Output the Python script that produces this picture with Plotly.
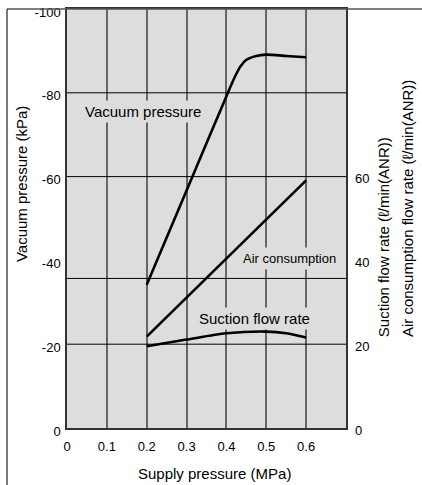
import plotly.graph_objects as go

# ---- data ----
x_ticks = [0, 0.1, 0.2, 0.3, 0.4, 0.5, 0.6]
x_ticktext = ["0", "0.1", "0.2", "0.3", "0.4", "0.5", "0.6"]
y_left_ticks = [0, -20, -40, -60, -80, -100]
y_left_ticktext = ["0", "-20", "-40", "-60", "-80", "-100"]
y_right_ticks = [0, 20, 40, 60]
y_right_ticktext = ["0", "20", "40", "60"]
h_gridlines = [-80, -60, -35.7, -20]

vac_x = [0.2, 0.3, 0.4, 0.42, 0.435, 0.45, 0.475, 0.5, 0.55, 0.6]
vac_y = [-34.2, -56.7, -79.2, -83.6, -86.3, -87.9, -88.8, -89.1, -88.8, -88.5]

air_x = [0.2, 0.6]
air_y = [21.8, 59.1]

suc_x = [0.2, 0.3, 0.4, 0.5, 0.55, 0.6]
suc_y = [19.5, 21.1, 22.6, 23.0, 22.6, 21.6]

FONT = "Liberation Sans, Arial, Helvetica, sans-serif"
BG = "#dddddd"

fig = go.Figure()
fig.add_trace(go.Scatter(x=vac_x, y=vac_y, mode="lines", yaxis="y",
                         line=dict(color="black", width=2.6, shape="spline", smoothing=0.5),
                         showlegend=False, hoverinfo="skip"))
fig.add_trace(go.Scatter(x=air_x, y=air_y, mode="lines", yaxis="y2",
                         line=dict(color="black", width=2.6),
                         showlegend=False, hoverinfo="skip"))
fig.add_trace(go.Scatter(x=suc_x, y=suc_y, mode="lines", yaxis="y2",
                         line=dict(color="black", width=2.6, shape="spline", smoothing=0.8),
                         showlegend=False, hoverinfo="skip"))

shapes = []
for g in h_gridlines:
    shapes.append(dict(type="line", xref="x", yref="y", x0=0, x1=0.7, y0=g, y1=g,
                       line=dict(color="black", width=1), layer="between"))
# outer frame (top and left)
shapes.append(dict(type="line", xref="paper", yref="paper", x0=-0.215, x1=1.3, y0=1, y1=1,
                   line=dict(color="#555", width=1.5)))
shapes.append(dict(type="line", xref="paper", yref="paper", x0=-0.215, x1=-0.215, y0=1, y1=-0.2,
                   line=dict(color="#222", width=1.2)))

annotations = [
    dict(text="Vacuum pressure", x=0.19, y=-75.5, xref="x", yref="y", showarrow=False,
         xanchor="center", yanchor="middle",
         font=dict(size=15, color="black", family=FONT), bgcolor=BG, borderpad=2),
    dict(text="Air consumption", x=0.5575, y=40.4, xref="x", yref="y2", showarrow=False,
         xanchor="center", yanchor="middle",
         font=dict(size=13, color="black", family=FONT),
         bgcolor=BG, borderpad=3),
    dict(text="Suction flow rate", x=0.47, y=26.2, xref="x", yref="y2", showarrow=False,
         xanchor="center", yanchor="middle",
         font=dict(size=15, color="black", family=FONT), bgcolor=BG, borderpad=2),
    dict(text="Vacuum pressure (kPa)", x=-0.165, y=0.582, xref="paper", yref="paper",
         xanchor="center", yanchor="middle",
         showarrow=False, textangle=-90, font=dict(size=15, color="black", family=FONT)),
    dict(text="Supply pressure (MPa)", x=0.53, y=-0.108, xref="paper", yref="paper",
         xanchor="center", yanchor="middle",
         showarrow=False, font=dict(size=15, color="black", family=FONT)),
    dict(text="Suction flow rate (ℓ/min(ANR))", x=1.134, y=0.213, xref="paper", yref="paper",
         xanchor="center", yanchor="bottom",
         showarrow=False, textangle=-90, font=dict(size=15, color="black", family=FONT)),
    dict(text="Air consumption flow rate (ℓ/min(ANR))", x=1.218, y=0.213, xref="paper", yref="paper",
         xanchor="center", yanchor="bottom",
         showarrow=False, textangle=-90, font=dict(size=15, color="black", family=FONT)),
]

fig.update_layout(
    width=422, height=485,
    margin=dict(l=67, r=76, t=5, b=57),
    paper_bgcolor="white", plot_bgcolor=BG,
    font=dict(family=FONT, color="black", size=13),
    xaxis=dict(range=[0, 0.7], tickvals=x_ticks, ticktext=x_ticktext,
               showgrid=True, gridcolor="#666", gridwidth=2, zeroline=False,
               showline=True, mirror=True, linecolor="#333", linewidth=1.5,
               ticks="", ticklabelstandoff=6, tickfont=dict(size=13, color="black")),
    yaxis=dict(range=[0, -100], tickvals=y_left_ticks, ticktext=y_left_ticktext,
               showgrid=False, zeroline=False,
               showline=True, mirror=True, linecolor="#333", linewidth=1.5,
               ticks="", ticklabelstandoff=2, ticklabelshift=-3,
               tickfont=dict(size=13, color="black")),
    yaxis2=dict(range=[0, 100], tickvals=y_right_ticks, ticktext=y_right_ticktext,
                overlaying="y", side="right", showgrid=False, zeroline=False,
                showline=False, ticks="", ticklabelstandoff=8, ticklabelshift=2,
                tickfont=dict(size=13, color="black")),
    shapes=shapes,
    annotations=annotations,
)

fig.write_html("out.html", config={"displayModeBar": False},
               post_script="document.body.style.margin='0';")
